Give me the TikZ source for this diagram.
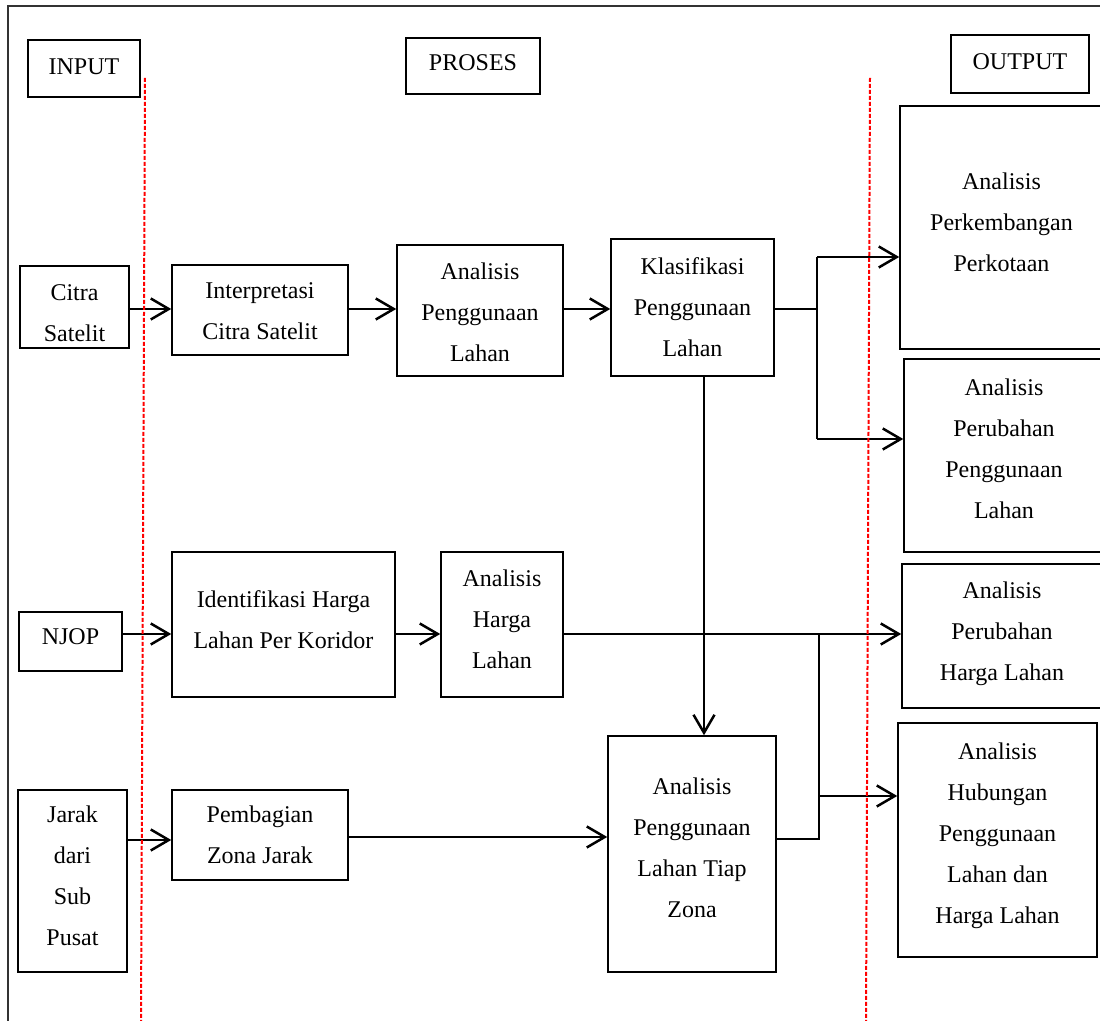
\documentclass[tikz,border=0pt]{standalone}
\usepackage{fontspec}
\setmainfont{Liberation Serif}
\usetikzlibrary{fit,arrows.meta}
\begin{document}
\begin{tikzpicture}[x=0.5pt,y=-0.5pt,
  box/.style={draw, line width=0.75pt, inner sep=0pt},
  txt/.style={inner sep=0pt, align=center,
    font=\fontsize{12pt}{20.5pt}\selectfont},
  arr/.style={line width=1.25pt, -{Straight Barb[length=9pt,width=10.5pt,line width=1.25pt]}},
  thinline/.style={line width=0.65pt},
  thickline/.style={line width=1.25pt},
  sep/.style={red, line width=1pt, dash pattern=on 2pt off 1pt}]
\useasboundingbox (0,0) rectangle (1100,1021);
\draw[line width=0.6pt, black!80] (8,6) rectangle (1115,1035);

% headers
\node[box, fit={(28,40) (140,97)}] (input) {};
\node[box, fit={(406,38) (540,94)}] (proses) {};
\node[box, fit={(951,35) (1089,93)}] (output) {};
\node[txt] (input-t) at ([yshift=1pt]input.center) {INPUT};
\node[txt] (proses-t) at ([yshift=1.5pt]proses.center) {PROSES};
\node[txt] (output-t) at ([yshift=1pt]output.center) {OUTPUT};

% row 1
\node[box, fit={(20,266) (129,348)}] (citra) {};
\node[box, fit={(172,265) (348,355)}] (interp) {};
\node[box, fit={(397,245) (563,376)}] (apl) {};
\node[box, fit={(611,239) (774,376)}] (klas) {};
\node[box, fit={(900,106) (1103,349)}] (perk) {};
\node[box, fit={(904,359) (1104,552)}] (perpl) {};
\node[txt] (citra-t) at ([yshift=-3pt]citra.center) {Citra\\Satelit};
\node[txt] (interp-t) at ([yshift=-0.5pt]interp.center) {Interpretasi\\Citra Satelit};
\node[txt] (apl-t) at ([yshift=-1pt]apl.center) {Analisis\\Penggunaan\\Lahan};
\node[txt] (klas-t) at (klas.center) {Klasifikasi\\Penggunaan\\Lahan};
\node[txt] (perk-t) at ([yshift=2.5pt]perk.center) {Analisis\\Perkembangan\\Perkotaan};
\node[txt] (perpl-t) at ([yshift=3.5pt]perpl.center) {Analisis\\Perubahan\\Penggunaan\\Lahan};

% row 2
\node[box, fit={(19,612) (122,671)}] (njop) {};
\node[box, fit={(172,552) (395,697)}] (ident) {};
\node[box, fit={(441,552) (563,697)}] (aharga) {};
\node[box, fit={(902,564) (1102,708)}] (perhl) {};
\node[txt] (njop-t) at ([yshift=2.5pt]njop.center) {NJOP};
\node[txt] (ident-t) at ([yshift=2.5pt]ident.center) {Identifikasi Harga\\Lahan Per Koridor};
\node[txt] (aharga-t) at ([yshift=2.5pt]aharga.center) {Analisis\\Harga\\Lahan};
\node[txt] (perhl-t) at ([yshift=1pt]perhl.center) {Analisis\\Perubahan\\Harga Lahan};

% row 3
\node[box, fit={(18,790) (127,972)}] (jarak) {};
\node[box, fit={(172,790) (348,880)}] (pemb) {};
\node[box, fit={(608,736) (776,972)}] (tiap) {};
\node[box, fit={(898,723) (1097,957)}] (hub) {};
\node[txt] (jarak-t) at ([yshift=2.5pt]jarak.center) {Jarak\\dari\\Sub\\Pusat};
\node[txt] (pemb-t) at (pemb.center) {Pembagian\\Zona Jarak};
\node[txt] (tiap-t) at ([yshift=3pt]tiap.center) {Analisis\\Penggunaan\\Lahan Tiap\\Zona};
\node[txt] (hub-t) at ([yshift=2pt]hub.center) {Analisis\\Hubungan\\Penggunaan\\Lahan dan\\Harga Lahan};

% helper coordinates
\coordinate (r1) at (0,309);
\coordinate (ja) at (817,257);
\coordinate (jb) at (817,439);
\coordinate (j1) at (817,309);
\coordinate (kd) at (704,0);
\coordinate (r2) at (0,634);
\coordinate (r3) at (0,840);
\coordinate (r4) at (0,837);
\coordinate (jc) at (819,634);
\coordinate (jd) at (819,839);
\coordinate (je) at (819,796);

% connectors row 1
\draw[arr] (citra.east |- r1) -- (interp.west |- r1);
\draw[arr] (interp.east |- r1) -- (apl.west |- r1);
\draw[arr] (apl.east |- r1) -- (klas.west |- r1);
\draw[thinline] (klas.east |- j1) -- (j1);
\draw[thickline] (ja) -- (jb);
\draw[arr] (ja) -- (perk.west |- ja);
\draw[arr] (jb) -- (perpl.west |- jb);
\draw[arr] (klas.south -| kd) -- (tiap.north -| kd);

% connectors row 2
\draw[arr] (njop.east |- r2) -- (ident.west |- r2);
\draw[arr] (ident.east |- r2) -- (aharga.west |- r2);
\draw[arr] (aharga.east |- r2) -- (perhl.west |- r2);

% connectors row 3
\draw[arr] (jarak.east |- r3) -- (pemb.west |- r3);
\draw[arr] (pemb.east |- r4) -- (tiap.west |- r4);
\draw[thinline] (tiap.east |- jd) -- (jd) -- (jc);
\draw[arr] (je) -- (hub.west |- je);

% separators
\coordinate (s1a) at (145,78);
\coordinate (s1b) at (141,1021);
\coordinate (s2a) at (870,78);
\coordinate (s2b) at (866,1021);
\draw[sep] (s1a) -- (s1b);
\draw[sep] (s2a) -- (s2b);
\end{tikzpicture}
\end{document}
